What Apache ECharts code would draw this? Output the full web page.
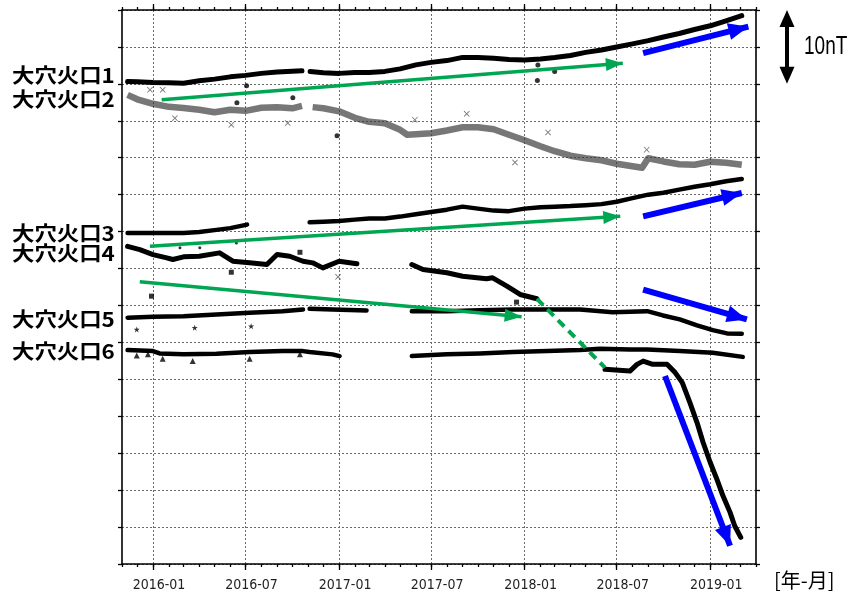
<!DOCTYPE html>
<html><head><meta charset="utf-8">
<script src="https://cdn.jsdelivr.net/npm/echarts@6/dist/echarts.min.js"></script>
<style>html,body{margin:0;padding:0;background:#fff}#c{width:852px;height:594px}</style>
</head><body><div id="c"></div>
<script>
// ---------------- data (nT offsets, bottom of frame = 0) ----------------
const seriesNames = ['大穴火口1','大穴火口2','大穴火口3','大穴火口4','大穴火口5','大穴火口6'];
const labelLevels = [66.15, 62.91, 44.73, 42.03, 33.11, 28.82];
const tickLabelDates = ['2016-01-01','2016-07-01','2017-01-01','2017-07-01','2018-01-01','2018-07-01','2019-01-01'];
const axisStart = '2015-11-01';
const axisEnd = '2019-04-01';

const s1Dates = ['2015-11-12','2015-12-01','2016-01-01','2016-02-01','2016-03-01','2016-04-01','2016-05-01','2016-06-01','2016-07-01','2016-08-01','2016-09-01','2016-10-01','2016-10-20','2016-10-27','2016-11-05','2016-12-01','2017-01-01','2017-02-01','2017-03-01','2017-04-01','2017-05-01','2017-06-01','2017-07-01','2017-08-01','2017-09-01','2017-10-01','2017-11-01','2017-12-01','2018-01-01','2018-02-01','2018-03-01','2018-04-01','2018-05-01','2018-06-01','2018-07-01','2018-08-01','2018-09-01','2018-10-01','2018-11-01','2018-12-01','2019-01-01','2019-02-01','2019-03-04'];
const s1Values = [65.31,65.27,65.18,65.14,65.09,65.41,65.64,65.95,66.15,66.42,66.62,66.72,66.76,null,66.66,66.49,66.42,66.53,66.55,66.69,67.03,67.57,67.91,68.15,68.58,68.58,68.47,68.31,68.24,68.38,68.58,68.85,69.26,69.59,70.00,70.41,70.85,71.35,71.82,72.36,72.86,73.54,74.23];

const s2Dates = ['2015-11-12','2015-12-01','2016-01-01','2016-02-01','2016-03-01','2016-04-01','2016-05-01','2016-06-01','2016-07-01','2016-08-01','2016-09-01','2016-10-01','2016-10-20','2016-10-27','2016-11-10','2016-12-01','2017-01-01','2017-02-01','2017-03-01','2017-04-01','2017-05-01','2017-05-15','2017-06-01','2017-07-01','2017-08-01','2017-09-01','2017-10-01','2017-11-01','2017-12-01','2018-01-01','2018-02-01','2018-03-01','2018-04-01','2018-05-01','2018-06-01','2018-07-01','2018-08-01','2018-08-20','2018-09-01','2018-10-01','2018-11-01','2018-12-01','2019-01-01','2019-02-01','2019-03-04'];
const s2Values = [63.51,62.91,62.30,61.89,61.72,61.49,61.15,61.49,61.35,61.76,61.82,61.69,62.03,null,61.85,61.69,61.28,60.41,59.86,59.66,58.78,58.11,58.18,58.31,58.69,59.12,59.12,58.85,58.11,57.36,56.55,55.88,55.27,54.93,54.66,54.19,53.85,53.65,54.93,54.50,54.12,54.05,54.46,54.32,54.05];

const s3Dates = ['2015-11-12','2015-12-01','2016-01-01','2016-02-01','2016-03-01','2016-04-01','2016-05-01','2016-06-01','2016-07-04','2016-08-15','2016-11-04','2016-12-01','2017-01-01','2017-02-01','2017-03-01','2017-04-01','2017-05-01','2017-06-01','2017-07-01','2017-08-01','2017-09-01','2017-10-01','2017-11-01','2017-12-01','2018-01-01','2018-02-01','2018-03-01','2018-04-01','2018-05-01','2018-06-01','2018-07-01','2018-08-01','2018-09-01','2018-10-01','2018-11-01','2018-12-01','2019-01-01','2019-02-01','2019-03-04'];
const s3Values = [44.82,44.80,44.82,44.80,44.82,44.96,45.20,45.47,45.95,null,46.26,46.35,46.42,46.62,46.76,46.76,47.03,47.36,47.64,47.97,48.38,48.11,47.84,47.77,48.11,48.31,48.38,48.45,48.58,48.72,49.05,49.53,50.00,50.27,50.68,51.08,51.42,51.82,52.12];

const s4Dates = ['2015-11-12','2015-12-06','2016-01-01','2016-01-28','2016-02-09','2016-03-01','2016-04-01','2016-05-11','2016-06-06','2016-07-09','2016-08-12','2016-09-01','2016-09-26','2016-10-22','2016-11-10','2016-11-30','2017-01-01','2017-02-05','2017-03-20','2017-05-24','2017-06-15','2017-08-01','2017-09-01','2017-10-18','2017-10-30','2017-11-27','2017-12-23','2018-01-25','2018-04-01','2018-06-08','2018-07-27','2018-08-10','2018-08-22','2018-09-10','2018-10-08','2018-10-24','2018-11-07','2018-11-22','2018-12-06','2018-12-18','2019-01-01','2019-01-14','2019-01-26','2019-02-09','2019-02-18','2019-03-02'];
const s4Values = [43.01,42.57,41.89,41.45,41.22,41.58,41.66,42.12,40.99,40.77,40.54,41.89,41.66,40.99,40.77,40.09,40.99,40.64,null,40.54,39.86,39.42,38.96,38.61,38.74,37.61,36.49,35.91,null,26.35,26.12,27.03,27.47,27.03,27.03,25.91,24.55,21.85,19.15,16.45,13.74,11.49,9.23,6.99,5.18,3.61];

const s5Dates = ['2015-11-12','2016-01-01','2016-03-01','2016-05-05','2016-07-09','2016-09-12','2016-10-22','2016-10-28','2016-11-04','2016-12-19','2017-02-24','2017-04-10','2017-05-24','2017-08-01','2017-10-05','2017-12-09','2018-02-14','2018-04-20','2018-06-23','2018-08-30','2018-09-30','2018-11-02','2018-12-06','2019-01-06','2019-02-03','2019-03-04'];
const s5Values = [33.34,33.47,33.55,33.78,34.01,34.23,34.46,null,34.55,34.46,34.32,null,34.23,34.23,34.36,34.46,34.46,34.46,34.09,34.23,33.65,33.11,32.30,31.66,31.22,31.18];

const s6Dates = ['2015-11-12','2016-01-01','2016-01-14','2016-03-01','2016-05-05','2016-07-09','2016-09-12','2016-10-22','2016-11-04','2016-12-19','2017-01-02','2017-03-15','2017-05-24','2017-08-01','2017-10-05','2017-12-09','2018-02-14','2018-04-20','2018-05-29','2018-07-27','2018-08-30','2018-11-02','2019-01-06','2019-03-06'];
const s6Values = [28.96,28.82,28.51,28.38,28.47,28.69,28.82,28.82,28.69,28.38,28.15,null,28.15,28.38,28.51,28.69,28.82,28.96,29.15,29.05,29.05,28.82,28.61,28.04];

// isolated points
const s1OutDates = ['2016-06-14','2016-07-03','2016-10-02','2016-12-28','2018-01-26','2018-01-27','2018-03-01'];
const s1OutValues = [62.43,64.73,63.11,57.97,65.45,67.57,66.66];
const s2OutDates = ['2015-12-26','2016-01-20','2016-02-13','2016-06-03','2016-09-22','2016-12-30','2017-05-30','2017-09-09','2017-12-13','2018-02-16','2018-08-29'];
const s2OutValues = [64.19,64.19,60.36,59.46,59.69,38.88,60.14,60.95,54.36,58.42,56.08];
const s4OutDates = ['2015-12-29','2016-06-03','2016-10-16','2017-12-16'];
const s4OutValues = [36.26,39.50,42.20,35.45];
const s4DotDates = ['2016-02-23','2016-04-02','2016-06-13'];
const s4DotValues = [42.80,42.80,43.47];
const s5OutDates = ['2015-11-30','2016-03-23','2016-07-12'];
const s5OutValues = [31.76,31.99,32.20];
const s6OutDates = ['2015-11-30','2015-12-22','2016-01-20','2016-03-19','2016-07-09','2016-10-16'];
const s6OutValues = [28.24,28.38,27.80,27.47,27.80,28.38];

// trend annotations: [startDate, startValue, endDate, endValue]
const greenArrows = [['2016-01-18',62.84,'2018-07-13',67.80],['2015-12-26',43.01,'2018-07-08',47.07],['2015-12-06',38.20,'2017-12-26',33.47]];
const greenDashed = [['2018-01-25',35.91,'2018-06-08',26.58]];
const blueArrows = [['2018-08-22',69.15,'2019-03-17',72.74],['2018-08-22',47.07,'2019-03-04',50.23],['2018-08-22',37.16,'2019-03-14',33.11],['2018-10-04',25.45,'2019-02-09',2.47]];
const scaleBar = {top: 75, bottom: 65, text: '10nT'};

// ---------------- chart ----------------
function ts(s){const p=s.split('-').map(Number);return +new Date(p[0],p[1]-1,p[2]);}
function pairs(d,v){return d.map((x,i)=>[ts(x),v[i]]);}
const COND = '"DejaVu Sans Condensed","Liberation Sans Narrow","DejaVu Sans",sans-serif';
const CJK = '"Noto Sans CJK JP","Noto Sans CJK SC",sans-serif';
const minT = ts(axisStart), maxT = ts(axisEnd);
const monthTicks = [];
for (let d = new Date(minT); +d <= maxT; d = new Date(d.getFullYear(), d.getMonth()+1, 1)) monthTicks.push(+d);
const majorTicks = tickLabelDates.map(ts);
const fmt = v => { const d=new Date(v); return d.getFullYear()+'-'+String(d.getMonth()+1).padStart(2,'0'); };
const dotted = {color:'#6a6a6a', width:1, type:[2,2]};
const axisLineStyle = {lineStyle:{color:'#000', width:1.6}};

function xAx(pos, ticks, len, extra){
  return Object.assign({
    type:'value', position:pos, min:minT, max:maxT, scale:true,
    axisLine:{show:false}, splitLine:{show:false},
    axisTick:{show:true, inside:false, length:len, customValues:ticks, lineStyle:{color:'#000', width:1.3}},
    axisLabel:{show:false}
  }, extra||{});
}

const lineSeries = (name,d,v,style) => ({
  name, type:'line', data:pairs(d,v), showSymbol:false, symbol:'none', connectNulls:false,
  silent:true, animation:false, lineStyle:style, z:3
});
const scat = (d,v,symbol,size,color) => ({
  type:'scatter', data:pairs(d,v), symbol, symbolSize:size, itemStyle:{color}, silent:true, animation:false, z:3
});
const marks = (list,color,width,type,sym,size) => ({
  type:'line', data:[], color, silent:true, animation:false, z:5,
  markLine:{
    silent:true, animation:false, symbol:['none',sym], symbolSize:size,
    symbolOffset:[[0,0],[0,sym==='none'?0:size[1]/2]],
    label:{show:false}, emphasis:{disabled:true},
    lineStyle:{color, width, type}, itemStyle:{color},
    data: list.map(a=>[{coord:[ts(a[0]),a[1]]},{coord:[ts(a[2]),a[3]]}])
  }
});
const XPATH='path://M0,1L1,0L5,4L9,0L10,1L6,5L10,9L9,10L5,6L1,10L0,9L4,5Z';
const STAR='path://M5,0L6.2,3.6L10,3.6L7,5.9L8.1,9.5L5,7.3L1.9,9.5L3,5.9L0,3.6L3.8,3.6Z';

const chart = echarts.init(document.getElementById('c'), null, {renderer:'canvas'});
chart.setOption({
  animation:false,
  backgroundColor:'#fff',
  grid:{left:122, right:96, top:10, bottom:30, containLabel:false, outerBoundsMode:'none'},
  xAxis:[
    xAx('bottom', monthTicks, 3, {axisLine:Object.assign({show:true},axisLineStyle)}),
    xAx('bottom', majorTicks, 6, {
      axisLabel:{show:true, customValues:majorTicks, formatter:fmt, margin:14, fontSize:14, fontFamily:COND, color:'#222', padding:[0,0,0,12]},
      splitLine:{show:true, lineStyle:dotted},
      name:'[年-月]', nameLocation:'end', nameGap:18,
      nameTextStyle:{fontSize:20, fontFamily:CJK, color:'#000', verticalAlign:'top', padding:[6,0,0,0]}
    }),
    xAx('top', monthTicks, 3, {axisLine:Object.assign({show:true},axisLineStyle)}),
    xAx('top', majorTicks, 6)
  ],
  yAxis:[
    {type:'value', position:'left', min:0, max:75, interval:5, axisLine:Object.assign({show:true},axisLineStyle),
     axisTick:{show:true, length:4, lineStyle:{color:'#000',width:1.3}}, axisLabel:{show:false}, splitLine:{show:true, lineStyle:dotted}},
    {type:'value', position:'right', min:0, max:75, interval:5, axisLine:Object.assign({show:true},axisLineStyle),
     axisTick:{show:true, length:4, lineStyle:{color:'#000',width:1.3}}, axisLabel:{show:false}, splitLine:{show:false}}
  ],
  series:[
    lineSeries(seriesNames[1], s2Dates, s2Values, {color:'rgba(55,55,55,0.68)', width:6.5, join:'round'}),
    lineSeries(seriesNames[0], s1Dates, s1Values, {color:'#000', width:5, join:'round', cap:'round'}),
    lineSeries(seriesNames[2], s3Dates, s3Values, {color:'#000', width:4.5, join:'round', cap:'round'}),
    lineSeries(seriesNames[3], s4Dates, s4Values, {color:'#000', width:5, join:'round', cap:'round'}),
    lineSeries(seriesNames[4], s5Dates, s5Values, {color:'#000', width:4.5, join:'round', cap:'round'}),
    lineSeries(seriesNames[5], s6Dates, s6Values, {color:'#000', width:4.5, join:'round', cap:'round'}),
    scat(s1OutDates, s1OutValues, 'circle', 5, '#000'),
    scat(s2OutDates, s2OutValues, XPATH, 6, '#555'),
    scat(s4OutDates, s4OutValues, 'rect', 5, '#000'),
    scat(s4DotDates, s4DotValues, 'circle', 3, '#000'),
    scat(s5OutDates, s5OutValues, STAR, 6, '#000'),
    scat(s6OutDates, s6OutValues, 'triangle', 6, '#000'),
    marks(greenArrows, '#00a651', 3.5, 'solid', 'triangle', [13,17]),
    marks(greenDashed, '#00a651', 4, [9,6], 'none', [1,1]),
    marks(blueArrows, '#0000ff', 6, 'solid', 'triangle', [17,20])
  ]
});

// overlay texts and scale bar placed through the axis scales
const yPx = v => chart.convertToPixel({yAxisIndex:0}, v);
const xRight = chart.convertToPixel({xAxisIndex:0}, maxT);
const yT = yPx(scaleBar.top), yB = yPx(scaleBar.bottom), bx = xRight + 31;
const graphics = seriesNames.map((t,i)=>({
  type:'text', x:12, y:yPx(labelLevels[i]), scaleX:1.12, silent:true,
  style:{text:t, fontSize:20, fontFamily:CJK, fontWeight:'bold', fill:'#000', align:'left', verticalAlign:'middle'}
}));
graphics.push(
  {type:'line', silent:true, shape:{x1:bx,y1:yT+12,x2:bx,y2:yB-12}, style:{stroke:'#000', lineWidth:4}},
  {type:'polygon', silent:true, shape:{points:[[bx,yT],[bx-7.5,yT+17],[bx+7.5,yT+17]]}, style:{fill:'#000'}},
  {type:'polygon', silent:true, shape:{points:[[bx,yB],[bx-7.5,yB-17],[bx+7.5,yB-17]]}, style:{fill:'#000'}},
  {type:'text', silent:true, x:bx+17, y:(yT+yB)/2, scaleX:0.76, style:{text:scaleBar.text, fontSize:25, fontFamily:'"Liberation Sans",sans-serif', fill:'#000', align:'left', verticalAlign:'middle'}}
);
chart.setOption({graphic:graphics});
</script>
</body></html>
